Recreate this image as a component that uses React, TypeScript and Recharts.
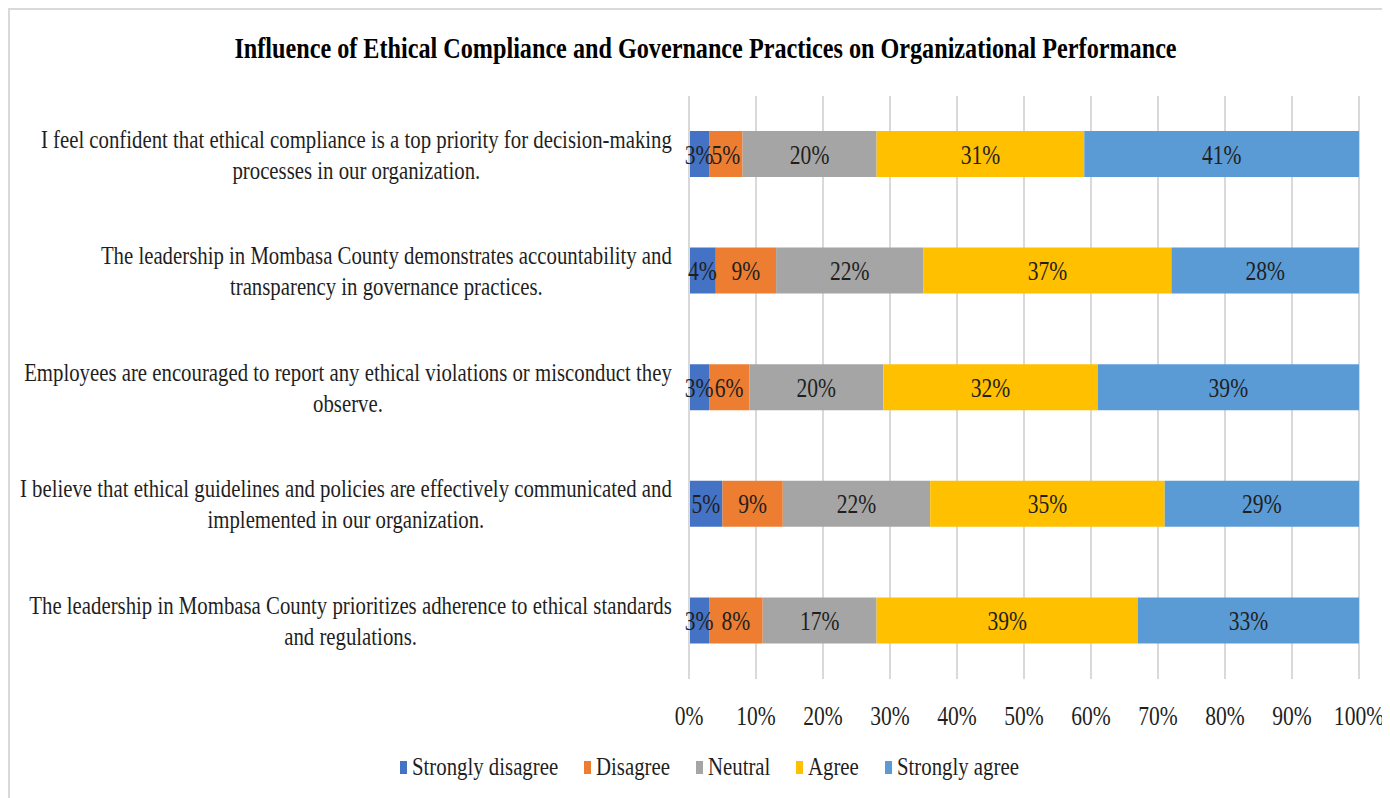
import React from 'react';
import { BarChart, Bar, XAxis, YAxis, CartesianGrid, Legend, LabelList } from 'recharts';

const FONT = '"Liberation Serif", "Times New Roman", serif';
const SX = 0.8; // text in the source is squeezed horizontally
const SX_NUM = 0.77;
const INK = '#1f1f1f';

// statements, top to bottom, as wrapped in the picture
const statements = [
  'I feel confident that ethical compliance is a top priority for decision-making\nprocesses in our organization.',
  'The leadership in Mombasa County demonstrates accountability and\ntransparency in governance practices.',
  'Employees are encouraged to report any ethical violations or misconduct they\nobserve.',
  'I believe that ethical guidelines and policies are effectively communicated and\nimplemented in our organization.',
  'The leadership in Mombasa County prioritizes adherence to ethical standards\nand regulations.',
];

const stronglyDisagree = [3, 4, 3, 5, 3];
const disagree = [5, 9, 6, 9, 8];
const neutral = [20, 22, 20, 22, 17];
const agree = [31, 37, 32, 35, 39];
const stronglyAgree = [41, 28, 39, 29, 33];

const xTicks = [0, 10, 20, 30, 40, 50, 60, 70, 80, 90, 100];

const series = [
  { key: 'sd', name: 'Strongly disagree', color: '#4472C4' },
  { key: 'd', name: 'Disagree', color: '#ED7D31' },
  { key: 'n', name: 'Neutral', color: '#A5A5A5' },
  { key: 'a', name: 'Agree', color: '#FFC000' },
  { key: 'sa', name: 'Strongly agree', color: '#5B9BD5' },
];

const data = statements.map((s, i) => ({
  statement: s,
  sd: stronglyDisagree[i],
  d: disagree[i],
  n: neutral[i],
  a: agree[i],
  sa: stronglyAgree[i],
}));

let ctx: CanvasRenderingContext2D | null = null;
const measure = (t: string, size: number, bold = false) => {
  if (!ctx) ctx = document.createElement('canvas').getContext('2d');
  if (!ctx) return t.length * size * 0.45;
  ctx.font = `${bold ? 'bold ' : ''}${size}px "Liberation Serif"`;
  return ctx.measureText(t).width;
};

const CategoryTick = ({ x, y, payload }: any) => {
  const lines: string[] = String(payload.value).split('\n');
  const maxW = Math.max(...lines.map((l) => measure(l, 26)));
  const lh = 31;
  return (
    <g transform={`translate(${x},${y}) scale(${SX},1)`}>
      {lines.map((l, i) => (
        <text
          key={i}
          x={-maxW / 2}
          y={(i - (lines.length - 1) / 2) * lh}
          textAnchor="middle"
          dominantBaseline="central"
          fontFamily={FONT}
          fontSize={26}
          fill={INK}
        >
          {l}
        </text>
      ))}
    </g>
  );
};

const PercentTick = ({ x, y, payload }: any) => (
  <g transform={`translate(${x},${y}) scale(${SX_NUM},1)`}>
    <text textAnchor="middle" dominantBaseline="central" fontFamily={FONT} fontSize={28} fill={INK}>
      {`${payload.value}%`}
    </text>
  </g>
);

const SegmentLabel = (props: any) => {
  const { x, y, width, height, value } = props;
  return (
    <g transform={`translate(${x + width / 2},${y + height / 2}) scale(${SX_NUM},1)`}>
      <text textAnchor="middle" dominantBaseline="central" fontFamily={FONT} fontSize={28} fill={INK}>
        {`${value}%`}
      </text>
    </g>
  );
};

const CustomLegend = () => (
  <div style={{ display: 'flex', justifyContent: 'center', alignItems: 'center', height: 46, paddingLeft: 76 }}>
    {series.map((s) => {
      const w = measure(s.name, 26) * SX;
      return (
        <div key={s.key} style={{ display: 'flex', alignItems: 'center', marginRight: 26 }}>
          <span style={{ display: 'inline-block', width: 7, height: 13, background: s.color, marginRight: 5 }} />
          <span style={{ display: 'inline-block', width: w, whiteSpace: 'nowrap' }}>
            <span
              style={{
                display: 'inline-block',
                transform: `scaleX(${SX})`,
                transformOrigin: 'left center',
                fontFamily: FONT,
                fontSize: 26,
                color: INK,
              }}
            >
              {s.name}
            </span>
          </span>
        </div>
      );
    })}
  </div>
);

const TITLE = 'Influence of Ethical Compliance and Governance Practices on Organizational Performance';

export default function App() {
  return (
    <div
      style={{
        position: 'relative',
        width: 1380,
        height: 800,
        borderTop: '2px solid #d9d9d9',
        borderLeft: '2px solid #d9d9d9',
        background: '#fff',
        overflow: 'hidden',
      }}
    >
      <style>{'body{overflow:hidden}'}</style>
      <div
        style={{
          position: 'absolute',
          top: 20,
          left: 0,
          width: 1390,
          textAlign: 'center',
          fontFamily: FONT,
          fontWeight: 'bold',
          fontSize: 30,
          color: '#000',
          lineHeight: '36px',
        }}
      >
        <span style={{ display: 'inline-block', transform: `scaleX(0.806)`, whiteSpace: 'nowrap' }}>{TITLE}</span>
      </div>
      <BarChart
        width={1380}
        height={788}
        data={data}
        layout="vertical"
        margin={{ top: 86, right: 31, bottom: 8, left: 0 }}
        barSize={46}
      >
        <CartesianGrid horizontal={false} stroke="#d9d9d9" strokeWidth={2} />
        <XAxis
          type="number"
          domain={[0, 100]}
          ticks={xTicks}
          axisLine={false}
          tickLine={false}
          tickSize={0}
          tickMargin={36}
          height={65}
          tick={<PercentTick />}
          interval={0}
        />
        <YAxis
          type="category"
          dataKey="statement"
          width={679}
          axisLine={{ stroke: '#d9d9d9', strokeWidth: 2 }}
          tickLine={false}
          tickSize={0}
          tickMargin={17}
          tick={<CategoryTick />}
          interval={0}
        />
        <Legend verticalAlign="bottom" height={46} content={<CustomLegend />} />
        {series.map((s) => (
          <Bar key={s.key} dataKey={s.key} name={s.name} stackId="all" fill={s.color} isAnimationActive={false}>
            <LabelList dataKey={s.key} content={<SegmentLabel />} />
          </Bar>
        ))}
      </BarChart>
    </div>
  );
}
